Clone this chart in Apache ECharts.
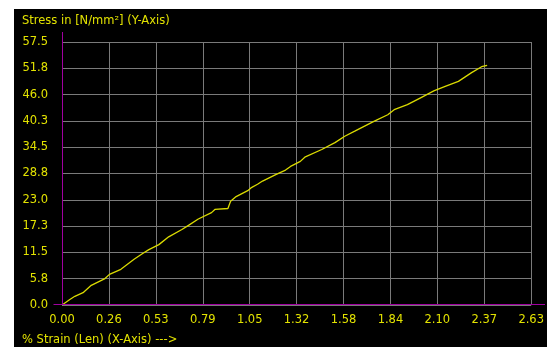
<!DOCTYPE html>
<html><head><meta charset="utf-8">
<script src="https://cdn.jsdelivr.net/npm/echarts@6/dist/echarts.min.js"></script>
<style>html,body{margin:0;padding:0;background:#fff;}#c{width:547px;height:347px;}</style>
</head><body><div id="c"></div>
<script>
const strain = [0,0.044,0.072,0.118,0.164,0.238,0.266,0.33,0.404,0.45,0.487,0.543,0.598,0.672,0.709,0.764,0.838,0.857,0.930,0.945,0.976,1.041,1.059,1.096,1.124,1.198,1.253,1.281,1.336,1.364,1.456,1.530,1.585,1.641,1.751,1.826,1.862,1.936,2.010,2.084,2.148,2.222,2.296,2.352,2.383];
const stress = [0,1.2,1.9,2.7,4.3,5.7,6.7,7.8,10.0,11.2,12.1,13.2,14.9,16.5,17.4,18.8,20.2,20.9,21.1,22.7,23.7,25.0,25.6,26.4,27.1,28.5,29.5,30.3,31.4,32.4,34.0,35.5,36.9,38.0,40.2,41.6,42.7,43.8,45.3,46.8,47.8,48.9,50.8,52.1,52.4];
const xTickLabels = ['0.00','0.26','0.53','0.79','1.05','1.32','1.58','1.84','2.10','2.37','2.63'];
const yTickLabels = ['0.0','5.8','11.5','17.3','23.0','28.8','34.5','40.3','46.0','51.8','57.5'];
const xStep = 0.263, yStep = 5.75;
const yTitle = 'Stress in [N/mm²] (Y-Axis)';
const xTitle = '% Strain (Len) (X-Axis) --->';

const TXT = '#e2e200', GRID = '#7a7a7a', MAG = '#a000a0', FONT = 'DejaVu Sans';
const chart = echarts.init(document.getElementById('c'));
const data = strain.map((v, i) => [v, stress[i]]);
chart.setOption({
  animation: false,
  backgroundColor: '#fff',
  grid: {left: 62, right: 10, top: 42, bottom: 42, containLabel: false},
  xAxis: {
    type: 'value', min: 0, max: xStep * 10, interval: xStep,
    axisLine: {show: false},
    axisTick: {show: false},
    splitLine: {show: true, lineStyle: {color: GRID, width: 1}},
    axisLabel: {color: TXT, fontFamily: FONT, fontSize: 11.5, margin: 9,
      formatter: v => xTickLabels[Math.round(v / xStep)] ?? ''}
  },
  yAxis: {
    type: 'value', min: 0, max: yStep * 10, interval: yStep,
    axisLine: {show: false},
    axisTick: {show: false},
    splitLine: {show: true, lineStyle: {color: GRID, width: 1}},
    axisLabel: {color: TXT, fontFamily: FONT, fontSize: 11.5, margin: 14,
      formatter: v => yTickLabels[Math.round(v / yStep)] ?? ''}
  },
  series: [{
    type: 'line', data: data, showSymbol: false, symbol: 'none',
    lineStyle: {color: '#dada00', width: 1.3}, z: 5
  }]
});
const o = chart.convertToPixel({gridIndex: 0}, [0, 0]);
const t = chart.convertToPixel({gridIndex: 0}, [xStep * 10, yStep * 10]);
const ox = Math.round(o[0]) + 0.5, oy = Math.round(o[1]) - 0.5;
chart.setOption({
  graphic: [
    {type: 'rect', shape: {x: 14, y: 9, width: 547 - 14, height: 347 - 9}, style: {fill: '#000'}, z: -10, silent: true},
    {type: 'line', shape: {x1: ox - 9, y1: oy, x2: 545, y2: oy}, style: {stroke: MAG, lineWidth: 1}, z: 10},
    {type: 'line', shape: {x1: ox, y1: Math.round(t[1]) - 10, x2: ox, y2: oy}, style: {stroke: MAG, lineWidth: 1}, z: 10},
    {type: 'text', x: 22, y: 21, style: {text: yTitle, fill: TXT, font: '11.5px "DejaVu Sans"', verticalAlign: 'middle'}, z: 10},
    {type: 'text', x: 22, y: 340, style: {text: xTitle, fill: TXT, font: '11.5px "DejaVu Sans"', verticalAlign: 'middle'}, z: 10}
  ]
});
</script></body></html>
